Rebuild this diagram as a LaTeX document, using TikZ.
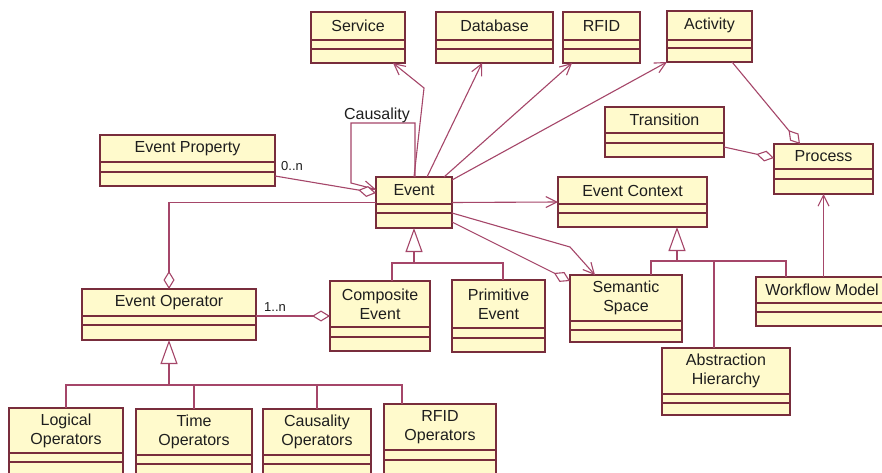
\documentclass[tikz,border=0pt]{standalone}
\usepackage{fontspec}
\setmainfont{Liberation Sans}
\usetikzlibrary{arrows.meta}
\definecolor{boxfill}{RGB}{255,250,204}
\definecolor{boxdraw}{RGB}{120,45,60}
\definecolor{conn}{RGB}{165,70,105}
\definecolor{txt}{RGB}{30,30,30}
\tikzset{
  umlbox/.style={draw=boxdraw, fill=boxfill, line width=1.2pt, inner sep=0pt, outer sep=0pt, rectangle},
  boxline/.style={draw=boxdraw, line width=1.2pt},
  umltext/.style={font=\fontsize{16}{19}\selectfont, align=center, inner sep=0pt, text=txt},
  plain/.style={draw=conn, line width=1.1pt},
  assoc/.style={plain, -{Straight Barb[length=11pt,width=11pt,line width=1.1pt]}},
  aggr/.style={plain, -{Diamond[length=18pt,width=11pt,fill=white,line width=1.1pt]}},
  aggrs/.style={plain, {Diamond[length=18pt,width=11pt,fill=white,line width=1.1pt]}-},
  gen/.style={plain, -{Triangle[length=24pt,width=17pt,fill=white,line width=1.1pt]}},
  lbl/.style={font=\fontsize{16}{19}\selectfont, inner sep=0pt, text=txt},
  mult/.style={font=\fontsize{13}{15}\selectfont, inner sep=0pt, text=txt},
}
% #1 name, #2 x1, #3 y1, #4 x2, #5 y2, #6 first line y, #7 second line y, #8 text
\newcommand\umlcls[8]{%
  \node[umlbox, minimum width={#4-#2}, minimum height={#5-#3}] (#1) at ({(#2+#4)/2},{(#3+#5)/2}) {};
  \draw[boxline] (#2,#6) -- (#4,#6) (#2,#7) -- (#4,#7);
  \node[umltext] (#1-t) at ({(#2+#4)/2},{(#3+#6)/2}) {#8};
}
\begin{document}
\begin{tikzpicture}[x=1pt,y=-1pt]
\useasboundingbox (0,0) rectangle (882,473);
\clip (0,0) rectangle (882,473);
\fill[white] (0,0) rectangle (882,473);

\umlcls{Service}{311}{12}{405}{63}{40}{49}{Service}
\umlcls{Database}{436}{12}{553}{63}{40}{49}{Database}
\umlcls{RFID}{563}{12}{640}{63}{40}{49}{RFID}
\umlcls{Activity}{667}{11}{752}{62}{40}{48}{Activity}
\umlcls{Transition}{605}{107}{724}{157}{133}{143}{Transition}
\umlcls{Process}{774}{144}{873}{194}{169}{179}{Process}
\umlcls{EventProperty}{100}{135}{275}{186}{162}{172}{Event Property}
\umlcls{Event}{376}{177}{452}{228}{204}{213}{Event}
\umlcls{EventContext}{558}{177}{707}{227}{204}{213}{Event Context}
\umlcls{EventOperator}{82}{289}{256}{340}{316}{325}{Event Operator}
\umlcls{Composite}{330}{281}{430}{351}{327}{337}{Composite\\Event}
\umlcls{Primitive}{452}{280}{545}{352}{328}{338}{Primitive\\Event}
\umlcls{Semantic}{570}{275}{682}{342}{321}{330}{Semantic\\Space}
\umlcls{Workflow}{756}{277}{888}{326}{303}{312}{Workflow Model}
\umlcls{Abstraction}{662}{348}{790}{415}{394}{403}{Abstraction\\Hierarchy}
\umlcls{Logical}{9}{408}{123}{490}{453}{462}{Logical\\Operators}
\umlcls{Time}{136}{409}{252}{490}{455}{464}{Time\\Operators}
\umlcls{Causality}{263}{409}{371}{490}{455}{464}{Causality\\Operators}
\umlcls{RFIDOp}{384}{404}{496}{490}{450}{460}{RFID\\Operators}

% associations from Event
\draw[assoc] (Event.north) -- (424,88) -- ([xshift=35pt]Service.south);
\draw[assoc] ([xshift=1pt]Event.north) -- ++(0,-54) -| (351,183) -- ([yshift=13pt]Event.west);
\node[lbl] (causlbl) at (377,115) {Causality};
\draw[assoc] ([xshift=13pt]Event.north) -- ([xshift=-12.5pt]Database.south);
\draw[assoc] ([xshift=30pt]Event.north) -- ([xshift=-29.5pt]RFID.south);
\draw[assoc] ([yshift=-3pt]Event.north east) -- (Activity.south west);
\draw[aggr] ([xshift=22.5pt]Activity.south) -- ([xshift=-23.5pt]Process.north);
\draw[aggr] ([yshift=-15pt]Transition.east) -- ([yshift=11pt]Process.west);
\draw[assoc] (Process.south |- Workflow.north) -- (Process.south);
\draw[aggr] ([yshift=-15.5pt]EventProperty.east) -- ([yshift=9.5pt]Event.west);
\node[mult] (m0n) at (292,166) {0..n};
\draw[aggr] (Event.west) -| (EventOperator.north);
\draw[aggrs] (Composite.west) -- (Composite.west -| EventOperator.east);
\node[mult] (m1n) at (275,307) {1..n};
\draw[assoc] (Event.east) -- (EventContext.west);
\draw[assoc] ([yshift=-10.5pt]Event.east) -- (570,247) -- ([xshift=-31pt]Semantic.north);
\draw[aggr] ([yshift=-19.5pt]Event.east) -- ([yshift=-6pt]Semantic.north west);

% generalizations
\coordinate (genE) at (414,263);
\draw[gen] (genE) -- (Event.south);
\draw[plain] ([xshift=12pt]Composite.north) |- (genE) -| ([xshift=4.5pt]Primitive.north);

\coordinate (genC) at (677,261);
\draw[gen] (genC) -- (genC |- EventContext.south);
\draw[plain] ([xshift=25pt]Semantic.north) |- (genC) -| ([xshift=-36pt]Workflow.north);
\draw[plain] ([xshift=-12pt]Abstraction.north) -- ++(0,-87);

\coordinate (genO) at (169,385);
\draw[gen] (genO) -- (EventOperator.south);
\draw[plain] (Logical.north) |- (genO) -| ([xshift=-38pt]RFIDOp.north);
\draw[plain] (Time.north) -- (Time.north |- genO);
\draw[plain] (Causality.north) -- (Causality.north |- genO);
\end{tikzpicture}
\end{document}
